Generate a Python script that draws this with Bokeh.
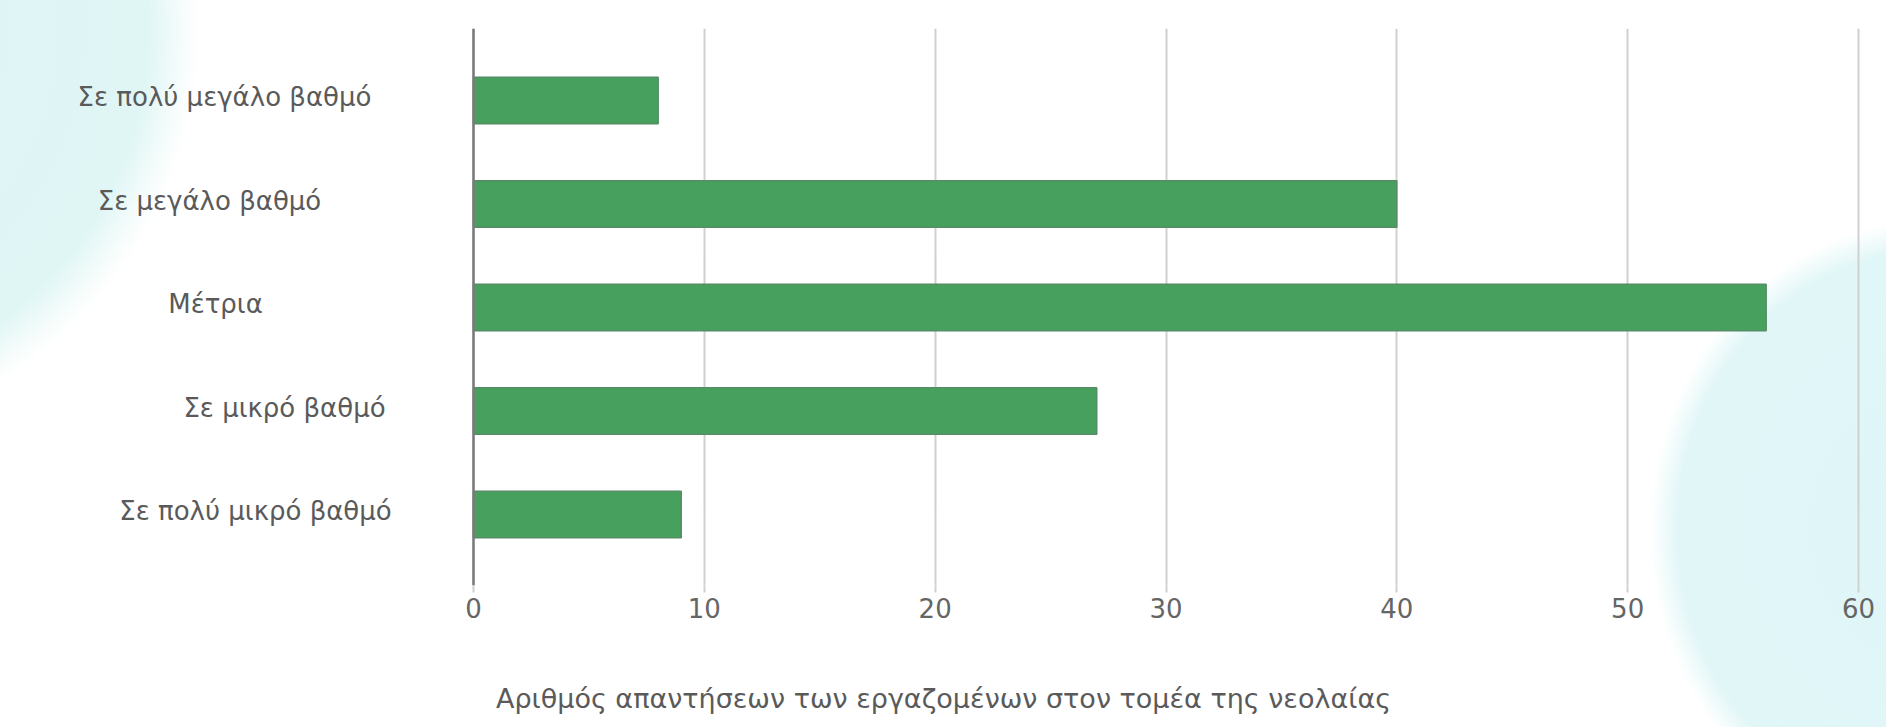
from bokeh.plotting import figure
from bokeh.models import ColumnDataSource, FixedTicker, InlineStyleSheet, Range1d, Span
from bokeh.core.properties import value
from bokeh.embed import file_html
from bokeh.resources import INLINE

# ---- data -------------------------------------------------------------
categories = [
    "Σε πολύ μεγάλο βαθμό",
    "Σε μεγάλο βαθμό",
    "Μέτρια",
    "Σε μικρό βαθμό",
    "Σε πολύ μικρό βαθμό",
]
responses = [8, 40, 56, 27, 9]
x_ticks = [0, 10, 20, 30, 40, 50, 60]
x_title = "Αριθμός απαντήσεων των εργαζομένων στον τομέα της νεολαίας"

# ---- layout / style ---------------------------------------------------
W, H = 1886, 727
ZERO_PX, MAX_PX = 473, 1858       # canvas columns of the 0 and max ticks
TOP, BOTTOM_PAD = 28, 142
FRAME_H = H - TOP - BOTTOM_PAD
BAND = 103.5                      # pixels per category row
FIRST_ROW = 72                    # first row centre below the frame top
FONT = "DejaVu Sans"
FONT_SIZE = "26px"
TEXT_COLOR = "#5a5a5a"
TICK_COLOR = "#656565"
BAR_FILL = "#48a05f"
BAR_EDGE = "#558d66"
GRID_COLOR = "#d0d0d0"

# horizontal centres of the category captions, in canvas pixels
caption_centres = [224, 209, 215, 284, 255]

x_max = x_ticks[-1]
px_per_unit = (MAX_PX - ZERO_PX) / x_max
y_top = -FIRST_ROW / BAND
y_bottom = y_top + FRAME_H / BAND


def dx(px):
    """canvas pixel column -> x data value"""
    return (px - ZERO_PX) / px_per_unit


p = figure(
    width=W, height=H,
    x_range=Range1d(dx(0), dx(W)),
    y_range=Range1d(y_bottom, y_top),
    y_axis_location=None,
    output_backend="svg", toolbar_location=None,
    min_border_left=0, min_border_right=0,
    min_border_top=TOP, min_border_bottom=BOTTOM_PAD,
)
p.outline_line_color = None
# transparent canvas so the soft page decoration shows through
p.background_fill_color = None
p.border_fill_color = None
p.stylesheets = [InlineStyleSheet(css="""
:host {
  background-color: #ffffff;
  background-image:
    radial-gradient(425px 415px at -225px 30px,
                    #dcf3f7 0%, #e0f6f5 88%, rgba(240,251,249,0.6) 96%, rgba(255,255,255,0) 100%),
    radial-gradient(285px 310px at 1935px 530px,
                    #dff5f7 0%, #e1f6f7 90%, rgba(240,251,251,0.6) 97%, rgba(255,255,255,0) 100%);
}
""")]

# x axis: ticks only, no baseline
xa = p.xaxis[0]
xa.ticker = FixedTicker(ticks=x_ticks)
xa.axis_line_color = None
xa.major_tick_in = 0
xa.major_tick_out = 7
xa.major_tick_line_color = GRID_COLOR
xa.major_tick_line_width = 2
xa.minor_tick_line_color = None
xa.major_label_standoff = 5
xa.major_label_text_font = FONT
xa.major_label_text_font_size = FONT_SIZE
xa.major_label_text_color = TICK_COLOR
xa.axis_label = x_title
xa.axis_label_standoff = 62
xa.axis_label_text_font = FONT
xa.axis_label_text_font_size = "27px"
xa.axis_label_text_font_style = "normal"
xa.axis_label_text_color = TEXT_COLOR

p.xgrid.ticker = FixedTicker(ticks=x_ticks)
p.xgrid.grid_line_color = GRID_COLOR
p.xgrid.grid_line_width = 2
p.ygrid.visible = False

# bars
rows = list(range(len(categories)))
src = ColumnDataSource(dict(
    row=rows, value=responses, name=categories,
    cx=[dx(c) for c in caption_centres],
    cy=[r - 0.03 for r in rows],
))
p.hbar(y="row", left=0, right="value", height=0.45, source=src,
       fill_color=BAR_FILL, line_color=BAR_EDGE, line_width=1.5)

# vertical axis line at zero
p.add_layout(Span(location=0, dimension="height", line_color="#7a7a7a",
                  line_width=2.5))

# category captions
p.text(x="cx", y="cy", text="name", source=src, text_align="center",
       text_baseline="middle", text_font=value(FONT),
       text_font_size=FONT_SIZE, text_color=TEXT_COLOR)

open("out.html", "w").write(file_html(p, INLINE))
